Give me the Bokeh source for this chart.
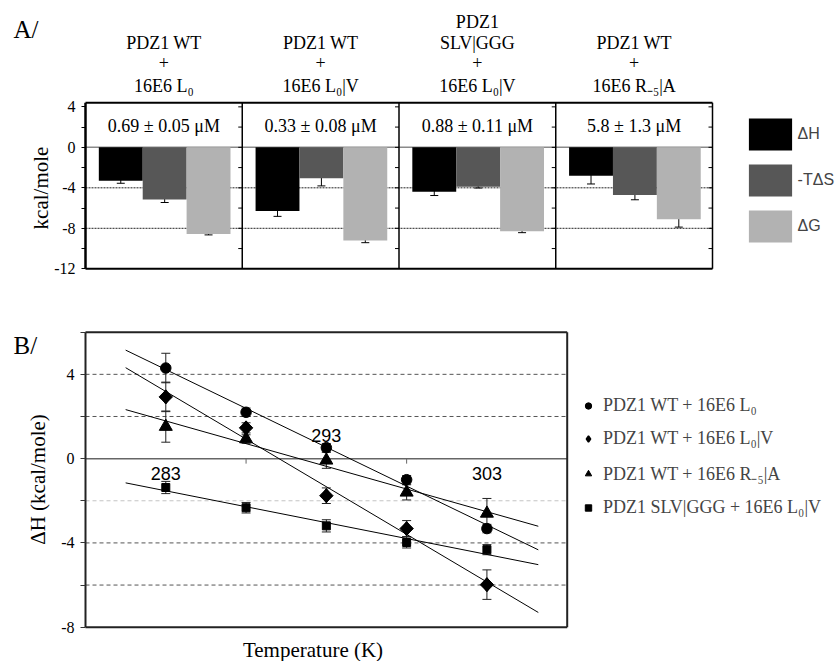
import numpy as np
from bokeh.plotting import figure
from bokeh.layouts import column
from bokeh.models import (Range1d, FixedTicker, Whisker, ColumnDataSource, Legend,
                          LegendItem, TeeHead, LinearAxis)
from bokeh.core.properties import value
from bokeh.embed import file_html
from bokeh.resources import INLINE

# ---------------- Panel A data ----------------
panel_titles = [
    ["PDZ1 WT", "+", "16E6 L₀"],
    ["PDZ1 WT", "+", "16E6 L₀|V"],
    ["PDZ1", "SLV|GGG", "+", "16E6 L₀|V"],
    ["PDZ1 WT", "+", "16E6 R₋₅|A"],
]
kd_labels = ["0.69 ± 0.05 μM", "0.33 ± 0.08 μM", "0.88 ± 0.11 μM", "5.8 ± 1.3 μM"]
quantities = ["ΔH", "-TΔS", "ΔG"]
dH = [-3.3, -6.3, -4.4, -2.8]
dH_err = [0.25, 0.52, 0.36, 0.82]
mTdS = [-5.15, -3.05, -3.9, -4.7]
mTdS_err = [0.3, 0.76, 0.12, 0.48]
dG = [-8.55, -9.2, -8.3, -7.1]
dG_err = [0.1, 0.22, 0.13, 0.78]
yrange_A = [-12, 4.4]
yticks_A = [-12, -8, -4, 0, 4]
yminor_A = [-10, -6, -2, 2]
dotted_A = [-4, -8]

# ---------------- Panel B data ----------------
temps = [283, 288, 293, 298, 303]
series_names = ["PDZ1 WT + 16E6 L₀", "PDZ1 WT + 16E6 L₀|V",
                "PDZ1 WT + 16E6 R₋₅|A", "PDZ1 SLV|GGG + 16E6 L₀|V"]
wt_L0 = [4.3, 2.2, 0.52, -1.0, -3.32]
wt_L0_err = [0.7, 0.2, 0.2, 0.2, 0.2]
wt_L0V = [2.93, 1.46, -1.76, -3.32, -5.98]
wt_L0V_err = [0.7, 0.24, 0.37, 0.38, 0.7]
wt_R5A = [1.52, 0.93, -0.08, -1.6, -2.6]
wt_R5A_err = [0.74, 0.2, 0.38, 0.36, 0.71]
slv_L0V = [-1.37, -2.33, -3.19, -3.98, -4.32]
slv_L0V_err = [0.29, 0.25, 0.29, 0.26, 0.24]
fit_T = [280.5, 306.2]
xrange_B = [278, 308]
yrange_B = [-8, 6]
yticks_B = [-8, -4, 0, 4]
yminor_B = [-6, -2, 2, 6]
dashed_B_dark = [4, 2, -4, -6]
dashed_B_light = [-2]
temp_labels = [283, 293, 303]
zero_ticks_B = [288, 298]

SERIF = "Liberation Serif"
SANS = "Liberation Sans"
FIG_W = 838


def geometry(dx, dy, px_l, px_r, px_t, px_b, W, H):
    """Extend data ranges so that the data window lands on the given pixel box
    (pixels measured from the figure's top-left corner)."""
    sx = (dx[1] - dx[0]) / (px_r - px_l)
    sy = (dy[1] - dy[0]) / (px_b - px_t)
    xr = Range1d(dx[0] - px_l * sx, dx[1] + (W - px_r) * sx)
    yr = Range1d(dy[0] - (H - px_b) * sy, dy[1] + px_t * sy)
    fx = lambda px: xr.start + px * sx
    fy = lambda py: yr.end - py * sy
    return xr, yr, fx, fy


def txt(p, x, y, s, size, font=SERIF, align="center", baseline="middle", angle=0.0):
    p.text(x=[x], y=[y], text=[s], text_font=value(font), text_font_size=size,
           text_align=align, text_baseline=baseline, text_color="black", angle=angle)


def style_axis(ax, ticks, minor, color, tick_len):
    ax.ticker = FixedTicker(ticks=ticks, minor_ticks=minor)
    ax.major_label_overrides = {t: str(t) for t in ticks}
    ax.axis_line_color = None
    ax.major_tick_out = tick_len
    ax.major_tick_in = 0
    ax.minor_tick_out = tick_len
    ax.minor_tick_in = 0
    ax.major_tick_line_color = color
    ax.minor_tick_line_color = color
    ax.major_label_text_font = SERIF
    ax.major_label_text_font_size = "16px"
    ax.major_label_text_color = "black"
    ax.major_label_standoff = 6


# ======================= Panel A =======================
n = len(panel_titles)
A_H = 300
xrA, yrA, fxA, fyA = geometry((0, n), yrange_A, 85, 712, 102.3, 268.3, FIG_W, A_H)
pA = figure(width=FIG_W, height=A_H, x_range=xrA, y_range=yrA, output_backend="svg",
            toolbar_location=None, x_axis_location=None, y_axis_location=None,
            min_border=0, title=None)
pA.xgrid.visible = False
pA.ygrid.visible = False
pA.outline_line_color = None
pA.background_fill_color = "white"
pA.border_fill_color = "white"

ya = LinearAxis(fixed_location=0)
style_axis(ya, yticks_A, yminor_A, "black", 4)
pA.add_layout(ya, "left")

# grid / reference lines
pA.segment(x0=[0] * len(dotted_A), x1=[n] * len(dotted_A), y0=dotted_A, y1=dotted_A,
           line_color="#222222", line_width=1, line_dash="2 1", level="underlay")
pA.segment(x0=[0], x1=[n], y0=[0], y1=[0], line_color="#8a8a8a", line_width=1.5,
           level="underlay")

colors_A = ["#000000", "#575757", "#b2b2b2"]
bar_w = 0.28
legend_items_A = []
for j, (vals, errs) in enumerate([(dH, dH_err), (mTdS, mTdS_err), (dG, dG_err)]):
    xs = [i + 0.505 + (j - 1) * bar_w for i in range(n)]
    src = ColumnDataSource(dict(x=xs, top=vals,
                                lower=[v - e for v, e in zip(vals, errs)],
                                upper=[v + e for v, e in zip(vals, errs)]))
    r = pA.vbar(x="x", top="top", bottom=0, width=bar_w, fill_color=colors_A[j],
                line_color=None, source=src)
    legend_items_A.append(LegendItem(label=quantities[j], renderers=[r]))
    pA.add_layout(Whisker(source=src, base="x", lower="lower", upper="upper",
                          line_color="black", line_width=1,
                          upper_head=TeeHead(size=8, line_color="black", line_width=1),
                          lower_head=TeeHead(size=8, line_color="black", line_width=1)))

# frame: left axis line, top/bottom, panel dividers and right edge
pA.segment(x0=[0], x1=[0], y0=[yrange_A[0]], y1=[yrange_A[1]], line_color="black", line_width=2.5)
pA.segment(x0=[0, 0], x1=[n, n], y0=yrange_A, y1=yrange_A, line_color="black", line_width=2)
divs = list(range(1, n + 1))
pA.segment(x0=divs, x1=divs, y0=[yrange_A[0]] * n, y1=[yrange_A[1]] * n,
           line_color="black", line_width=1.5)

# inner tick marks on the right side of each panel
inner_ticks = [t for t in sorted(yticks_A + yminor_A) if yrange_A[0] < t < yrange_A[1]]
rx, ry = [], []
for k in divs:
    for t in inner_ticks:
        rx.append(k)
        ry.append(t)
pA.ray(x=rx, y=ry, length=4, length_units="screen", angle=np.pi,
       line_color="black", line_width=1)

# Kd labels
pA.text(x=[i + 0.5 for i in range(n)], y=[2.15] * n, text=kd_labels,
        text_font=value(SERIF), text_font_size="18px", text_align="center",
        text_baseline="middle", text_color="black")

# panel titles (bottom aligned rows)
row_baselines = [85, 62, 42, 21]
for i, lines in enumerate(panel_titles):
    for k, line in enumerate(reversed(lines)):
        txt(pA, i + 0.5, fyA(row_baselines[k]), line, "18px", baseline="alphabetic")

txt(pA, fxA(13), fyA(29), "A/", "25px", align="left")
txt(pA, fxA(40), fyA(187.5), "kcal/mole", "21px", angle=np.pi / 2)

# legend key rectangles are drawn inset by 10%, hence the larger glyph box
legA = Legend(items=legend_items_A, location=(742.6, 54), glyph_width=54, glyph_height=40,
              spacing=6, padding=0, margin=0, label_standoff=1,
              label_text_font=SANS, label_text_font_size="16px",
              border_line_color=None, background_fill_alpha=0)
pA.add_layout(legA)

# ======================= Panel B =======================
B_H = 361
xrB, yrB, fxB, fyB = geometry(xrange_B, yrange_B, 85, 566.7, 31.7, 326.7, FIG_W, B_H)
pB = figure(width=FIG_W, height=B_H, x_range=xrB, y_range=yrB, output_backend="svg",
            toolbar_location=None, x_axis_location=None, y_axis_location=None,
            min_border=0, title=None)
pB.xgrid.visible = False
pB.ygrid.visible = False
pB.outline_line_color = None
pB.background_fill_color = "white"
pB.border_fill_color = "white"

yb = LinearAxis(fixed_location=xrange_B[0])
style_axis(yb, yticks_B, yminor_B, "#333333", 5)
pB.add_layout(yb, "left")

nd = len(dashed_B_dark)
pB.segment(x0=[xrange_B[0]] * nd, x1=[xrange_B[1]] * nd, y0=dashed_B_dark, y1=dashed_B_dark,
           line_color="#555555", line_width=1, line_dash="4 3", level="underlay")
nl = len(dashed_B_light)
pB.segment(x0=[xrange_B[0]] * nl, x1=[xrange_B[1]] * nl, y0=dashed_B_light, y1=dashed_B_light,
           line_color="#c4c4c4", line_width=1, line_dash="4 3", level="underlay")
pB.segment(x0=[xrange_B[0]], x1=[xrange_B[1]], y0=[0], y1=[0], line_color="#666666",
           line_width=1.5, level="underlay")

# tick marks hanging from the zero line
pB.ray(x=zero_ticks_B, y=[0] * len(zero_ticks_B), length=5, length_units="screen",
       angle=-np.pi / 2, line_color="#666666", line_width=1)

# temperature labels
lab_src = ColumnDataSource(dict(x=temp_labels, y=[0] * len(temp_labels),
                                t=[str(t) for t in temp_labels], off=[15, -23, 15]))
pB.text(x="x", y="y", text="t", y_offset="off", source=lab_src,
        text_font=value(SANS), text_font_size="18px", text_align="center",
        text_baseline="middle", text_color="black")

series = [(wt_L0, wt_L0_err), (wt_L0V, wt_L0V_err), (wt_R5A, wt_R5A_err), (slv_L0V, slv_L0V_err)]
# (marker, size, angle); a tilted square draws the diamond symbol
marker_styles = [("circle", 10.5, 0.0), ("square", 9.5, np.pi / 4),
                 ("triangle", 13, 0.0), ("square", 8, 0.0)]
legend_items_B = []
for (vals, errs), name, (mk, sz, ang) in zip(series, series_names, marker_styles):
    slope, icpt = np.polyfit(temps, vals, 1)
    pB.line(x=fit_T, y=[slope * t + icpt for t in fit_T], line_color="black", line_width=1)
    src = ColumnDataSource(dict(x=temps, y=vals,
                                lower=[v - e for v, e in zip(vals, errs)],
                                upper=[v + e for v, e in zip(vals, errs)]))
    pB.add_layout(Whisker(source=src, base="x", lower="lower", upper="upper",
                          line_color="#222222", line_width=1,
                          upper_head=TeeHead(size=9, line_color="#222222", line_width=1),
                          lower_head=TeeHead(size=9, line_color="#222222", line_width=1)))
    if ang != 0.0:
        # upright diamond for the legend key, hidden beneath the tilted square in the plot
        key = pB.scatter(x="x", y="y", source=src, marker="diamond", size=sz * 1.41,
                         fill_color="black", line_color="black", line_width=1.5)
        pB.scatter(x="x", y="y", source=src, marker=mk, size=sz, angle=ang,
                   fill_color="black", line_color="black")
    else:
        key = pB.scatter(x="x", y="y", source=src, marker=mk, size=sz,
                         fill_color="black", line_color="black")
    legend_items_B.append(LegendItem(label=name, renderers=[key]))

# frame of panel B
pB.segment(x0=[xrange_B[0]], x1=[xrange_B[0]], y0=[yrange_B[0]], y1=[yrange_B[1]],
           line_color="#222222", line_width=2)
pB.segment(x0=[xrange_B[0]] * 2, x1=[xrange_B[1]] * 2, y0=yrange_B, y1=yrange_B,
           line_color="#222222", line_width=2)
pB.segment(x0=[xrange_B[1]], x1=[xrange_B[1]], y0=[yrange_B[0]], y1=[yrange_B[1]],
           line_color="#222222", line_width=2)

txt(pB, fxB(13), fyB(45), "B/", "25px", align="left")
txt(pB, fxB(37), fyB(179), "ΔH (kcal/mole)", "21px", angle=np.pi / 2)
txt(pB, fxB(312.5), fyB(349), "Temperature (K)", "21px")

legB = Legend(items=legend_items_B, location=(580, 143), glyph_width=16, glyph_height=21,
              spacing=12, padding=0, margin=0, label_standoff=7,
              label_text_font=SERIF, label_text_font_size="18px",
              border_line_color=None, background_fill_alpha=0)
pB.add_layout(legB)

layout = column(pA, pB)
open("out.html", "w").write(file_html(layout, INLINE))
